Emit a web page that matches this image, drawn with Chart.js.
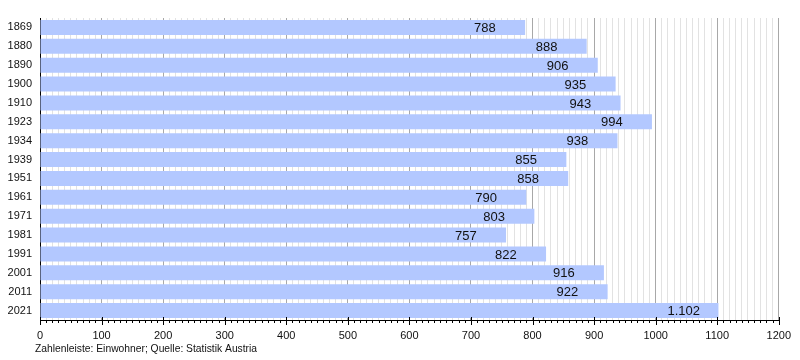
<!DOCTYPE html>
<html>
<head>
<meta charset="utf-8">
<script src="https://cdn.jsdelivr.net/npm/chart.js@4/dist/chart.umd.min.js"></script>
<style>
  html, body { margin: 0; padding: 0; background: #fff; }
  #wrap { width: 800px; height: 360px; position: relative; }
</style>
</head>
<body>
<div id="wrap"><canvas id="main-chart"></canvas></div>
<script>
//data
const years = ['1869','1880','1890','1900','1910','1923','1934','1939','1951','1961','1971','1981','1991','2001','2011','2021'];
const population = [788, 888, 906, 935, 943, 994, 938, 855, 858, 790, 803, 757, 822, 916, 922, 1102];
const valueLabels = ['788','888','906','935','943','994','938','855','858','790','803','757','822','916','922','1.102'];
const xTicks = [0, 100, 200, 300, 400, 500, 600, 700, 800, 900, 1000, 1100, 1200];
const footnote = 'Zahlenleiste: Einwohner; Quelle: Statistik Austria';

const FONT = '"Liberation Sans", Arial, sans-serif';

//plugin: value labels inside the bars, axis ticks and footnote
const extras = {
  id: 'extras',
  afterDatasetsDraw(chart) {
    const ctx = chart.ctx;
    const x = chart.scales.x;
    const meta = chart.getDatasetMeta(0);
    ctx.save();
    ctx.font = '13px ' + FONT;
    ctx.fillStyle = '#111';
    ctx.textAlign = 'left';
    ctx.textBaseline = 'middle';
    meta.data.forEach((bar, i) => {
      ctx.fillText(valueLabels[i], x.getPixelForValue(population[i]) - 51, bar.y + 1);
    });
    ctx.restore();
  },
  afterDraw(chart) {
    const ctx = chart.ctx;
    const x = chart.scales.x;
    const y0 = chart.chartArea.bottom;
    ctx.save();
    ctx.strokeStyle = '#000';
    ctx.lineWidth = 1;
    ctx.beginPath();
    for (let v = 0; v <= 1200; v += 10) {
      const px = Math.round(x.getPixelForValue(v)) + 0.5;
      if (v % 100 === 0) {
        ctx.moveTo(px, y0 - 3);
        ctx.lineTo(px, y0 + 5);
      } else {
        ctx.moveTo(px, y0);
        ctx.lineTo(px, y0 + 3);
      }
    }
    ctx.stroke();
    ctx.font = '10.3px ' + FONT;
    ctx.fillStyle = '#111';
    ctx.textAlign = 'left';
    ctx.textBaseline = 'middle';
    ctx.fillText(footnote, 35, 349);
    ctx.restore();
  }
};

const chart_elem = document.getElementById('main-chart');
const main_chart = new Chart(chart_elem, {
  type: 'bar',
  data: {
    labels: years,
    datasets: [{
      data: population,
      backgroundColor: 'rgb(179,200,255)',
      borderWidth: 0,
      barPercentage: 0.8,
      categoryPercentage: 1.0
    }]
  },
  options: {
    indexAxis: 'y',
    responsive: true,
    maintainAspectRatio: false,
    animation: false,
    layout: { padding: { top: 18, right: 18, left: 0, bottom: 0 } },
    plugins: {
      legend: { display: false },
      tooltip: { enabled: false }
    },
    scales: {
      x: {
        min: 0,
        max: 1200,
        afterBuildTicks: (scale) => {
          const t = [];
          for (let v = 0; v <= 1200; v += 10) t.push({ value: v });
          scale.ticks = t;
        },
        afterFit: (scale) => { scale.height = 40; },
        ticks: {
          autoSkip: false,
          maxRotation: 0,
          padding: 9,
          color: '#111',
          font: { family: FONT, size: 11 },
          callback: (v) => (xTicks.includes(v) ? String(v) : '')
        },
        grid: {
          drawTicks: false,
          color: (c) => (c.tick && c.tick.value % 100 === 0 ? '#a8a8a8' : '#e2e2e2'),
          lineWidth: 1
        },
        border: { display: true, color: '#000', width: 1 }
      },
      y: {
        afterFit: (scale) => { scale.width = 40; },
        ticks: {
          padding: 8,
          color: '#111',
          font: { family: FONT, size: 11 }
        },
        grid: { display: false, drawTicks: false },
        border: { display: true, color: '#000', width: 1 }
      }
    }
  },
  plugins: [extras]
});
</script>
</body>
</html>
